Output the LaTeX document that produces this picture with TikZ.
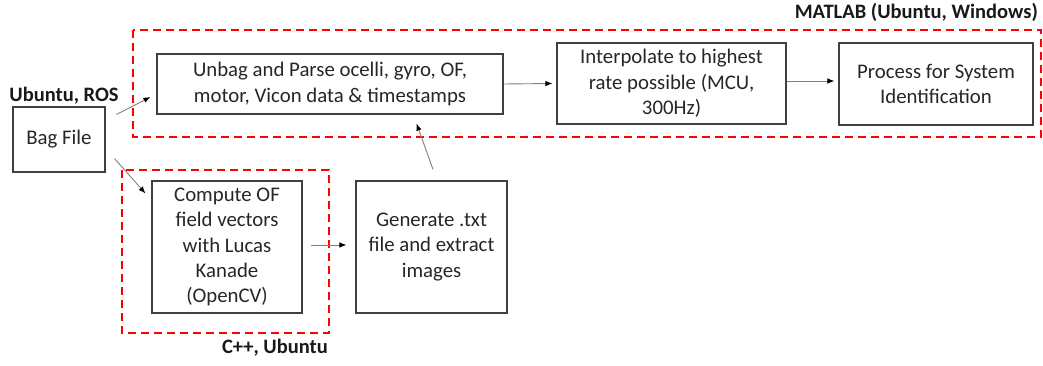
\documentclass[tikz,border=0pt]{standalone}
\usepackage{fontspec}
\setmainfont{Carlito}
\usetikzlibrary{arrows.meta,calc}
\definecolor{boxgray}{HTML}{404040}
\definecolor{linegray}{HTML}{808080}
\tikzset{
  procbox/.style={draw=boxgray, line width=1.1pt, align=center, inner sep=2pt,
    font=\fontsize{20.8}{25.3}\selectfont, text=black!85},
  groupbox/.style={draw=red, line width=2.4pt, dash pattern=on 8pt off 5pt},
  grouplabel/.style={font=\fontsize{20.5}{24}\selectfont\bfseries, text=black!90, inner sep=0pt},
  arr/.style={draw=linegray, line width=0.9pt, -{Latex[length=7pt,width=5.5pt,color=black]}}
}
\begin{document}
\begin{tikzpicture}[x=1pt,y=-1pt]
\path[use as bounding box] (0,0) rectangle (1043,366);
% group boxes
\draw[groupbox] (133,30) rectangle (1041,137);
\draw[groupbox] (122,170) rectangle (329,333);
% nodes
\node[procbox, minimum width=92pt, minimum height=65pt] (bag) at (59,139.5) {Bag File};
\node[procbox, minimum width=346pt, minimum height=60pt] (unbag) at (330,84) {Unbag and Parse ocelli, gyro, OF,\\motor, Vicon data \& timestamps};
\node[procbox, minimum width=229pt, minimum height=81pt] (interp) at (671.5,83.5) {Interpolate to highest\\rate possible (MCU,\\300Hz)};
\node[procbox, minimum width=194pt, minimum height=82pt] (proc) at (936,84) {Process for System\\Identification};
\node[procbox, minimum width=150pt, minimum height=132pt] (comp) at (227,247) {Compute OF\\field vectors\\with Lucas\\Kanade\\(OpenCV)};
\node[procbox, minimum width=151pt, minimum height=132pt] (gen) at (431.5,247) {Generate .txt\\file and extract\\images};
% labels
\node[grouplabel] (lros) at (64,96) {Ubuntu, ROS};
\node[grouplabel, anchor=east] (lmat) at (1038,12) {MATLAB (Ubuntu, Windows)};
\node[grouplabel, anchor=east] (lcpp) at (328,348) {C++, Ubuntu};
% connectors
\draw[arr] ($(bag.north east)+(11,8)$) -- ($(unbag.west)+(-6,13)$);
\draw[arr] ($(bag.south east)+(9,-14)$) -- ($(comp.north west)+(-6,13)$);
\draw[arr] ($(comp.east)+(8,-2)$) -- ($(gen.west)+(-9,-2)$);
\draw[arr] ($(gen.north)+(1.5,-11)$) -- ($(unbag.south east)+(-87,9)$);
\draw[arr] (unbag.east) -- ($(interp.west)+(-4,0)$);
\draw[arr] ($(interp.east)+(0,-2.5)$) -- ($(proc.west)+(-4,-3)$);
\end{tikzpicture}
\end{document}
